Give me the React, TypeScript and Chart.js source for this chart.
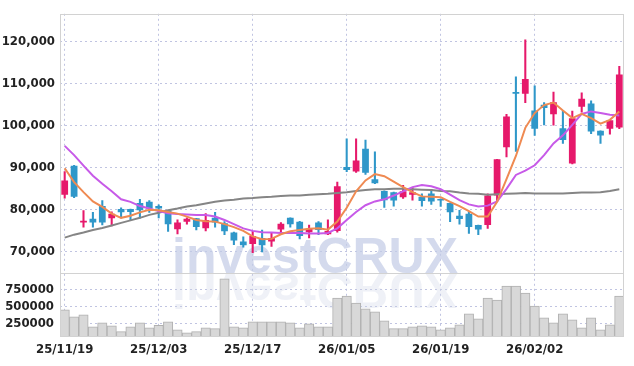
import React, { useEffect, useRef } from "react";
import { Chart, registerables } from "chart.js";

Chart.register(...registerables);

const labels = [
  "25/11/19", "25/11/20", "25/11/21", "25/11/24", "25/11/25", "25/11/26", "25/11/27", "25/11/28", "25/12/01", "25/12/02",
  "25/12/03", "25/12/04", "25/12/05", "25/12/08", "25/12/09", "25/12/10", "25/12/11", "25/12/12", "25/12/15", "25/12/16",
  "25/12/17", "25/12/18", "25/12/19", "25/12/22", "25/12/23", "25/12/24", "25/12/26", "25/12/29", "25/12/30", "26/01/02",
  "26/01/05", "26/01/06", "26/01/07", "26/01/08", "26/01/09", "26/01/12", "26/01/13", "26/01/14", "26/01/15", "26/01/16",
  "26/01/19", "26/01/20", "26/01/21", "26/01/22", "26/01/23", "26/01/26", "26/01/27", "26/01/28", "26/01/29", "26/01/30",
  "26/02/02", "26/02/03", "26/02/04", "26/02/05", "26/02/06", "26/02/09", "26/02/10", "26/02/11", "26/02/12", "26/02/13",
];

const opens = [
  83600, 90500, 77000, 77900, 80900, 78000, 80200, 80200, 81600, 81900,
  80900, 79900, 75400, 77200, 78000, 75600, 78100, 76800, 74600, 72500,
  71900, 73300, 72500, 75300, 78100, 77200, 74700, 77000, 74200, 75000,
  90200, 89100, 94500, 87300, 84500, 84200, 83000, 83600, 83100, 83900,
  82600, 81600, 78600, 79100, 76400, 76400, 83400, 94900, 108000, 107600,
  103600, 105000, 102700, 99400, 91000, 104500, 105300, 98800, 99300, 99600,
];
const highs = [
  89100, 90600, 79800, 79400, 82200, 79500, 80500, 80200, 82500, 82200,
  81200, 79900, 77600, 78100, 78000, 79100, 79400, 77200, 74700, 73600,
  74900, 75200, 74500, 77000, 78100, 77300, 76400, 77200, 77600, 86600,
  96900, 96900, 96600, 93800, 84500, 84200, 85800, 85300, 83800, 84900,
  82600, 81600, 79900, 79500, 76400, 83800, 92000, 102700, 111600, 120400,
  109500, 105500, 108000, 103500, 103500, 107800, 105900, 98800, 101300, 114100,
];
const lows = [
  82800, 82900, 75900, 75900, 76400, 76200, 78100, 77500, 78000, 79400,
  78100, 74900, 74300, 76600, 75200, 75000, 75900, 74100, 71700, 71100,
  69800, 70000, 71300, 74700, 75900, 73100, 73300, 74100, 74100, 74700,
  89100, 88900, 88400, 86200, 80600, 80900, 82700, 82300, 80900, 81300,
  80800, 77200, 76600, 74400, 74100, 75600, 82000, 92600, 93900, 105500,
  97700, 100200, 100100, 95800, 90900, 103200, 98100, 95800, 98000, 99300,
];
const closes = [
  87000, 83100, 77400, 77000, 77000, 79100, 79400, 79500, 79900, 80300,
  80300, 76600, 77000, 77900, 75900, 77600, 77000, 74900, 72700, 71600,
  73800, 71600, 73300, 76700, 76600, 73800, 75500, 75200, 75000, 85600,
  89500, 91700, 88800, 86300, 82300, 82200, 84400, 84200, 82100, 82000,
  82200, 79400, 77800, 75900, 75300, 83400, 92000, 102200, 107600, 111100,
  99300, 104200, 105600, 96600, 101800, 106400, 98600, 97700, 101300, 112200,
];
const volumes = [
  444000, 342000, 371000, 197000, 255000, 211000, 124000, 197000, 255000, 182000,
  216000, 269000, 153000, 109000, 124000, 182000, 168000, 900000, 197000, 182000,
  269000, 269000, 269000, 269000, 255000, 182000, 240000, 197000, 197000, 619000,
  648000, 546000, 459000, 415000, 284000, 168000, 168000, 197000, 211000, 197000,
  153000, 182000, 226000, 386000, 313000, 619000, 590000, 794000, 794000, 692000,
  502000, 328000, 255000, 386000, 299000, 182000, 328000, 153000, 226000, 648000,
];
const ma5 = [
  89900, 86600, 84200, 82000, 80700, 79100, 78100, 78600, 79400, 80000,
  79900, 79500, 79100, 78400, 77600, 77300, 77200, 76600, 75900, 75000,
  73700, 73000, 73100, 74200, 74900, 75200, 75500, 75600, 75300, 77200,
  80500, 84400, 87000, 88500, 88000, 86700, 85400, 84200, 83200, 83100,
  83000, 81900, 80900, 79700, 78400, 78400, 81900, 87300, 92800, 99500,
  103000, 104900, 105500, 103600, 101800, 102800, 101800, 100500, 101400, 103400,
];
const ma20 = [
  95200, 93000, 90500, 88100, 86200, 84400, 82500, 81900, 80900, 80300,
  79700, 79200, 79000, 78900, 78800, 78800, 78400, 77600, 76600, 75600,
  75000, 74700, 74600, 74500, 74500, 74500, 74400, 74400, 74500, 75600,
  77600, 79500, 81100, 82000, 82500, 83400, 84400, 85400, 85900, 85600,
  84900, 83600, 82300, 81300, 80800, 81000, 82000, 85000, 88300, 89300,
  90600, 93000, 95800, 97700, 100200, 102800, 103400, 103000, 102600, 102400,
];
const ma60 = [
  73400, 74100, 74600, 75200, 75700, 76300, 76900, 77500, 78100, 78800,
  79300, 79900, 80300, 80800, 81100, 81500, 81900, 82200, 82400, 82700,
  82800, 83000, 83100, 83300, 83400, 83400, 83600, 83700, 83800, 84000,
  84200, 84500, 84700, 84900, 84900, 85000, 85000, 84900, 84800, 84700,
  84500, 84400, 84100, 83900, 83800, 83600, 83700, 83800, 83900, 84000,
  83900, 83900, 83900, 83900, 84000, 84100, 84100, 84200, 84500, 84900,
];

const priceTicks = [70000, 80000, 90000, 100000, 110000, 120000];
const volumeTicks = [250000, 500000, 750000];

const UP = "#e6196b";
const DOWN = "#2f97c9";
const FONT = "'Liberation Sans Narrow', 'DejaVu Sans Condensed', 'Liberation Sans', sans-serif";
const GRID = "rgba(185,190,222,0.9)";

const frame = {
  id: "frame",
  beforeDatasetsDraw(chart: any) {
    const { ctx, chartArea } = chart;
    const vol = chart.scales.yVol;
    const base = vol.top;
    ctx.save();
    const text = "investCRUX";
    let size = 52;
    ctx.font = `bold ${size}px 'Liberation Sans', Arial, sans-serif`;
    const w = ctx.measureText(text).width;
    size = (size * 286) / w;
    ctx.font = `bold ${size}px 'Liberation Sans', Arial, sans-serif`;
    ctx.textAlign = "center";
    ctx.textBaseline = "alphabetic";
    const cx = 315;
    ctx.fillStyle = "rgba(196,204,230,0.72)";
    ctx.fillText(text, cx, base);
    ctx.save();
    ctx.beginPath();
    ctx.rect(chartArea.left, base, chartArea.right - chartArea.left, chartArea.bottom - base);
    ctx.clip();
    ctx.translate(0, base * 2);
    ctx.scale(1, -1);
    ctx.fillStyle = "rgba(205,210,230,0.32)";
    ctx.fillText(text, cx, base);
    ctx.restore();
    ctx.restore();
  },
  afterDraw(chart: any) {
    const { ctx, chartArea } = chart;
    const vol = chart.scales.yVol;
    ctx.save();
    ctx.strokeStyle = "#d2d2d2";
    ctx.lineWidth = 1;
    ctx.strokeRect(
      Math.round(chartArea.left) + 0.5,
      Math.round(chartArea.top) + 0.5,
      Math.round(chartArea.right - chartArea.left) - 1,
      Math.round(chartArea.bottom - chartArea.top) - 1
    );
    ctx.beginPath();
    ctx.moveTo(chartArea.left, Math.round(vol.top) + 0.5);
    ctx.lineTo(chartArea.right, Math.round(vol.top) + 0.5);
    ctx.stroke();
    ctx.restore();
  },
};

export default function App() {
  const ref = useRef<HTMLCanvasElement>(null);
  useEffect(() => {
    document.body.style.margin = "0";
    const colors = opens.map((o, i) => (closes[i] >= o ? UP : DOWN));
    const chart = new Chart(ref.current as HTMLCanvasElement, {
      type: "bar",
      data: {
        labels,
        datasets: [
          { type: "line", data: ma5, borderColor: "#ef8a52", borderWidth: 2, pointRadius: 0, tension: 0, yAxisID: "y", order: 0 } as any,
          { type: "line", data: ma20, borderColor: "#c75ae8", borderWidth: 2, pointRadius: 0, tension: 0, yAxisID: "y", order: 0 } as any,
          { type: "line", data: ma60, borderColor: "#858585", borderWidth: 2, pointRadius: 0, tension: 0, yAxisID: "y", order: 0 } as any,
          {
            type: "bar",
            data: opens.map((o, i) => [o, closes[i]]),
            backgroundColor: colors,
            barPercentage: 0.72,
            categoryPercentage: 1,
            grouped: false,
            yAxisID: "y",
            order: 1,
          } as any,
          {
            type: "bar",
            data: lows.map((l, i) => [l, highs[i]]),
            backgroundColor: colors,
            barThickness: 1.4,
            grouped: false,
            yAxisID: "y",
            order: 2,
          } as any,
          {
            type: "bar",
            data: volumes,
            backgroundColor: "#d8d8d8",
            borderColor: "#b0b0b0",
            borderWidth: 1,
            barPercentage: 1,
            categoryPercentage: 1,
            grouped: false,
            yAxisID: "yVol",
            order: 3,
          } as any,
        ],
      },
      options: {
        responsive: false,
        animation: false,
        events: [],
        layout: { padding: { top: 9, right: 10, left: 0, bottom: 0 } },
        plugins: { legend: { display: false }, tooltip: { enabled: false } },
        scales: {
          x: {
            type: "category",
            offset: true,
            grid: { offset: false, color: GRID, drawTicks: false },
            border: { display: false, dash: [2, 3] },
            afterBuildTicks: (s: any) => {
              s.ticks = s.ticks.filter((t: any) => t.value % 10 === 0);
            },
            afterFit: (s: any) => {
              s.height = 29;
            },
            ticks: {
              autoSkip: false,
              maxRotation: 0,
              padding: 5,
              color: "#222",
              font: { family: FONT, size: 13, weight: "bold" },
            },
          },
          yVol: {
            type: "linear",
            position: "left",
            stack: "main",
            stackWeight: 65,
            min: 46000,
            max: 988000,
            afterBuildTicks: (s: any) => {
              s.ticks = volumeTicks.map((v) => ({ value: v }));
            },
            afterFit: (s: any) => {
              s.width = 60;
            },
            grid: { color: GRID, drawTicks: false },
            border: { display: false, dash: [2, 3] },
            ticks: {
              autoSkip: false,
              padding: 6,
              color: "#222",
              font: { family: FONT, size: 13, weight: "bold" },
              callback: (v: any) => String(v),
            },
          },
          y: {
            type: "linear",
            position: "left",
            stack: "main",
            stackWeight: 263,
            min: 65000,
            max: 126600,
            afterBuildTicks: (s: any) => {
              s.ticks = priceTicks.map((v) => ({ value: v }));
            },
            afterFit: (s: any) => {
              s.width = 60;
            },
            grid: { color: GRID, drawTicks: false },
            border: { display: false, dash: [2, 3] },
            ticks: {
              autoSkip: false,
              padding: 5,
              color: "#222",
              font: { family: FONT, size: 13, weight: "bold" },
              callback: (v: any) => Number(v).toLocaleString("en-US"),
            },
          },
        } as any,
      },
      plugins: [frame],
    });
    return () => chart.destroy();
  }, []);
  return (
    <div style={{ width: 634, height: 366, position: "relative" }}>
      <canvas ref={ref} width={634} height={366} />
    </div>
  );
}
